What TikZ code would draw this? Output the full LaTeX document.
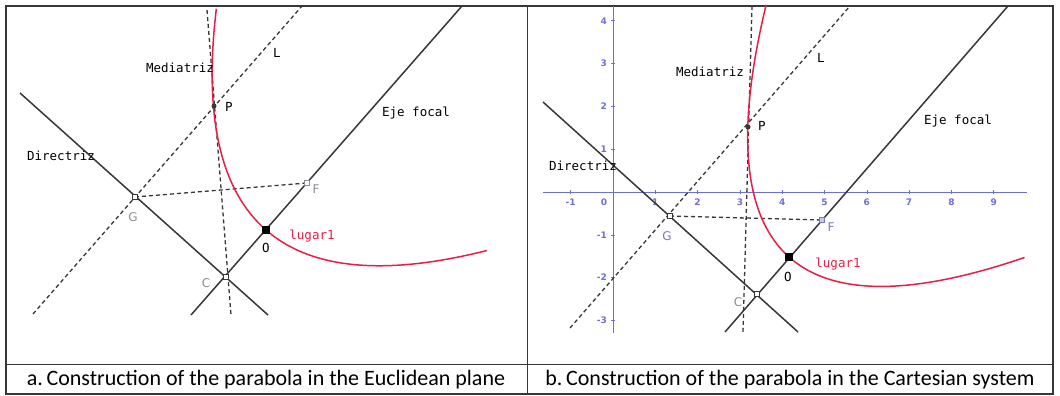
\documentclass[tikz,border=0pt]{standalone}
\usepackage{fontspec}
\setmainfont{Carlito}
\newfontfamily\geofont{DejaVu Sans Mono}
\newfontfamily\axisfont{DejaVu Sans}
\usetikzlibrary{calc}

\definecolor{geored}{RGB}{232,30,72}
\definecolor{geoaxis}{RGB}{110,110,215}
\definecolor{geogray}{RGB}{55,55,55}
\definecolor{ptgray}{RGB}{140,140,150}
\definecolor{ptblue}{RGB}{120,120,190}

\begin{document}
\begin{tikzpicture}[x=1pt,y=-1pt,
every node/.style={inner sep=0pt},
geoline/.style={geogray,line width=1.5pt},
dashline/.style={geogray,line width=1.3pt,dash pattern=on 4pt off 3pt},
curve/.style={geored,line width=1.5pt},
axisline/.style={geoaxis,line width=0.9pt},
lbl/.style={font=\geofont\fontsize{12.5}{13}\selectfont},
ptlbl/.style={font=\axisfont\fontsize{12}{12}\selectfont,text=ptgray},
ticklbl/.style={font=\axisfont\bfseries\fontsize{9}{9}\selectfont,text=geoaxis},
ptsq/.style={draw=geogray,fill=white,rectangle,minimum size=5pt,line width=0.9pt},
ptdot/.style={fill=geogray,circle,minimum size=5pt},
ptbig/.style={fill=black,rectangle,minimum size=7.5pt},
caption/.style={font=\fontsize{22}{22}\selectfont}]
\useasboundingbox (0,0) rectangle (1060,396);

% frame and captions
\draw[line width=1.2pt,geogray] (6,6) rectangle (1053,394);
\draw[line width=1pt,geogray] (527,6) -- (527,394);
\draw[line width=1pt,geogray] (6,364) -- (1053,364);
\node[caption] (capa) at (266,380) {a.\,Construction of the parabola in the Euclidean plane};
\node[caption] (capb) at (790,380) {b.\,Construction of the parabola in the Cartesian system};

% panel a
\coordinate (Ga) at (135,197);
\coordinate (Fa) at (307,183);
\coordinate (Pa) at (214,106);
\coordinate (Oa) at (266,230);
\coordinate (Ca) at (226,277);
\coordinate (Da1) at (20,93);
\coordinate (Da2) at (268,315);
\coordinate (Ea1) at (191,315);
\coordinate (Ea2) at (462,6);
\coordinate (La1) at (33,314);
\coordinate (La2) at (302,6);
\coordinate (Ma1) at (207,10);
\coordinate (Ma2) at (231,315);
\draw[geoline] (Da1) -- (Da2);
\draw[geoline] (Ea1) -- (Ea2);
\draw[dashline] (La1) -- (La2);
\draw[dashline] (Ma1) -- (Ma2);
\draw[dashline] (Ga) -- (Fa);
\draw[curve] plot[domain=-183:180,samples=90]
  ({266+0.753*\x+0.657*(\x/15.8)*(\x/15.8)},{230+0.657*\x-0.753*(\x/15.8)*(\x/15.8)});
\node[ptsq] at (Ga) {};
\node[ptsq,draw=ptgray] at (Fa) {};
\node[ptsq] at (Ca) {};
\node[ptdot] at (Pa) {};
\node[ptbig] at (Oa) {};
\node[lbl] (meda) at (180,68) {Mediatriz};
\node[lbl] (la) at (277,53) {L};
\node[lbl] (pa) at (229,107) {P};
\node[lbl] (ejea) at (416,113) {Eje focal};
\node[lbl] (dira) at (61,156) {Directriz};
\node[ptlbl] (fa) at (316,189) {F};
\node[ptlbl] (ga) at (133,217) {G};
\node[lbl,text=geored] (luga) at (312,236) {lugar1};
\node[lbl] (oa) at (266,248) {O};
\node[ptlbl] (ca) at (206,283) {C};

% panel b: axes
\coordinate (Xb1) at (543,192);
\coordinate (Xb2) at (1027,192);
\coordinate (Yb1) at (613,6);
\coordinate (Yb2) at (613,333);
\draw[axisline] (Xb1) -- (Xb2);
\draw[axisline] (Yb1) -- (Yb2);
\foreach \k in {-1,1,2,...,9}{
  \draw[geoaxis,line width=0.6pt] ({613+42.3*\k},190) -- ({613+42.3*\k},194);
  \node[ticklbl] at ({613+42.3*\k},202) {\k};
}
\node[ticklbl] (zb) at (604,202) {0};
\foreach \k in {-3,...,-1,1,2,...,4}{
  \draw[geoaxis,line width=0.6pt] (611,{192-42.8*\k}) -- (615,{192-42.8*\k});
  \node[ticklbl,anchor=east] at (607,{192-42.8*\k}) {\k};
}

% panel b: construction
\coordinate (Gb) at (670,216);
\coordinate (Fb) at (822,220);
\coordinate (Pb) at (748,127);
\coordinate (Ob) at (789,257);
\coordinate (Cb) at (757,294);
\coordinate (Db1) at (543,102);
\coordinate (Db2) at (798,332);
\coordinate (Eb1) at (725,332);
\coordinate (Eb2) at (1008,6);
\coordinate (Lb1) at (570,328);
\coordinate (Lb2) at (850,6);
\coordinate (Mb1) at (752,6);
\coordinate (Mb2) at (743,332);
\draw[geoline] (Db1) -- (Db2);
\draw[geoline] (Eb1) -- (Eb2);
\draw[dashline] (Lb1) -- (Lb2);
\draw[dashline] (Mb1) -- (Mb2);
\draw[dashline] (Gb) -- (Fb);
\draw[curve] plot[domain=-185:176,samples=90]
  ({789+0.746*\x+0.666*(\x/14.07)*(\x/14.07)},{257+0.666*\x-0.746*(\x/14.07)*(\x/14.07)});
\node[ptsq] at (Gb) {};
\node[ptsq,draw=ptblue,fill=ptblue!40] at (Fb) {};
\node[ptsq] at (Cb) {};
\node[ptdot] at (Pb) {};
\node[ptbig] at (Ob) {};
\node[lbl] (medb) at (710,72) {Mediatriz};
\node[lbl] (lb) at (821,58) {L};
\node[lbl] (pb) at (762,126) {P};
\node[lbl] (ejeb) at (958,121) {Eje focal};
\node[lbl] (dirb) at (583,166) {Directriz};
\node[ptlbl,text=ptblue] (fb) at (831,227) {F};
\node[ptlbl,text=ptblue] (gb) at (667,236) {G};
\node[lbl,text=geored] (lugb) at (838,264) {lugar1};
\node[lbl] (ob) at (788,277) {O};
\node[ptlbl] (cb) at (738,302) {C};
\end{tikzpicture}
\end{document}
